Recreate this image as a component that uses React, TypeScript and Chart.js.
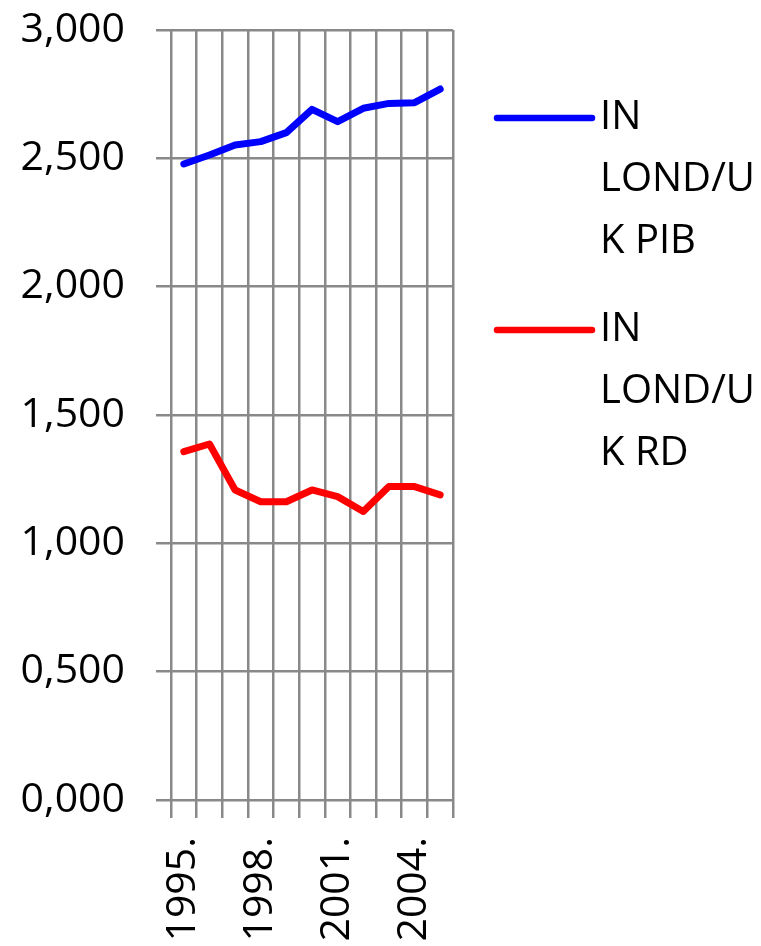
import React, { useEffect, useRef } from "react";
import { Chart, registerables } from "chart.js";

Chart.register(...registerables);

const years = ["1995.", "1996.", "1997.", "1998.", "1999.", "2000.", "2001.", "2002.", "2003.", "2004.", "2005."];
const pibValues = [2.478, 2.513, 2.552, 2.565, 2.6, 2.691, 2.643, 2.695, 2.714, 2.717, 2.77];
const rdValues = [1.357, 1.387, 1.208, 1.162, 1.162, 1.208, 1.182, 1.124, 1.221, 1.221, 1.189];
const seriesNames = ["IN LOND/UK PIB", "IN LOND/UK RD"];
const legendLines = [["IN", "LOND/U", "K PIB"], ["IN", "LOND/U", "K RD"]];
const seriesColors = ["#0000ff", "#ff0000"];

const FONT = "'Open Sans', 'Liberation Sans', sans-serif";
const GRID = "#898989";

const legendPlugin = {
  id: "wrappedLegend",
  afterDraw(chart: any) {
    const ctx = chart.ctx;
    const area = chart.chartArea;
    ctx.save();
    const starts = [118, 330];
    chart.data.datasets.forEach((ds: any, i: number) => {
      const y0 = starts[i];
      ctx.strokeStyle = ds.borderColor;
      ctx.lineWidth = 6.5;
      ctx.lineCap = "round";
      ctx.beginPath();
      ctx.moveTo(area.right + 44, y0);
      ctx.lineTo(area.right + 139, y0);
      ctx.stroke();
      ctx.fillStyle = "#000";
      ctx.font = `40px ${FONT}`;
      ctx.textBaseline = "middle";
      ctx.textAlign = "left";
      legendLines[i].forEach((t, k) => {
        ctx.fillText(t, area.right + 147, y0 + k * 62);
      });
    });
    ctx.restore();
  },
};

export default function App() {
  const ref = useRef<HTMLCanvasElement | null>(null);
  useEffect(() => {
    document.body.style.margin = "0";
    const canvas = ref.current!;
    const chart = new Chart(canvas, {
      type: "line",
      data: {
        labels: years,
        datasets: [
          {
            label: seriesNames[0],
            data: pibValues,
            borderColor: seriesColors[0],
            backgroundColor: seriesColors[0],
            borderWidth: 7,
            pointRadius: 0,
            tension: 0,
            borderJoinStyle: "round",
            borderCapStyle: "round",
          },
          {
            label: seriesNames[1],
            data: rdValues,
            borderColor: seriesColors[1],
            backgroundColor: seriesColors[1],
            borderWidth: 7,
            pointRadius: 0,
            tension: 0,
            borderJoinStyle: "round",
            borderCapStyle: "round",
          },
        ],
      },
      options: {
        animation: false,
        responsive: false,
        devicePixelRatio: 1,
        layout: { padding: { top: 30, right: 308, left: 0, bottom: 0 } },
        plugins: { legend: { display: false }, tooltip: { enabled: false } },
        scales: {
          x: {
            offset: true,
            grid: { offset: true, color: GRID, lineWidth: 2.5, tickLength: 18, drawTicks: true },
            border: { display: false },
            ticks: {
              autoSkip: false,
              maxRotation: 90,
              minRotation: 90,
              padding: 19,
              color: "#000",
              font: { family: FONT, size: 41 },
              callback: (_v: any, i: number) => (i % 3 === 0 ? years[i] : ""),
            },
            afterFit: (s: any) => {
              s.height = 146;
              s.paddingLeft = 0;
              s.paddingRight = 0;
              s.paddingTop = 0;
              s.paddingBottom = 0;
            },
          },
          y: {
            min: 0,
            max: 3,
            grid: { color: GRID, lineWidth: 2.5, tickLength: 15 },
            border: { display: false },
            ticks: {
              stepSize: 0.5,
              padding: 31,
              color: "#000",
              font: { family: FONT, size: 41 },
              callback: (v: any) => Number(v).toFixed(3).replace(".", ","),
            },
            afterFit: (s: any) => {
              s.width = 171;
              s.paddingTop = 0;
              s.paddingBottom = 0;
              s.paddingLeft = 0;
              s.paddingRight = 0;
            },
          },
        },
      },
      plugins: [legendPlugin],
    });
    return () => chart.destroy();
  }, []);
  return (
    <div style={{ width: 761, height: 946 }}>
      <canvas ref={ref} width={761} height={946} style={{ display: "block" }} />
    </div>
  );
}
